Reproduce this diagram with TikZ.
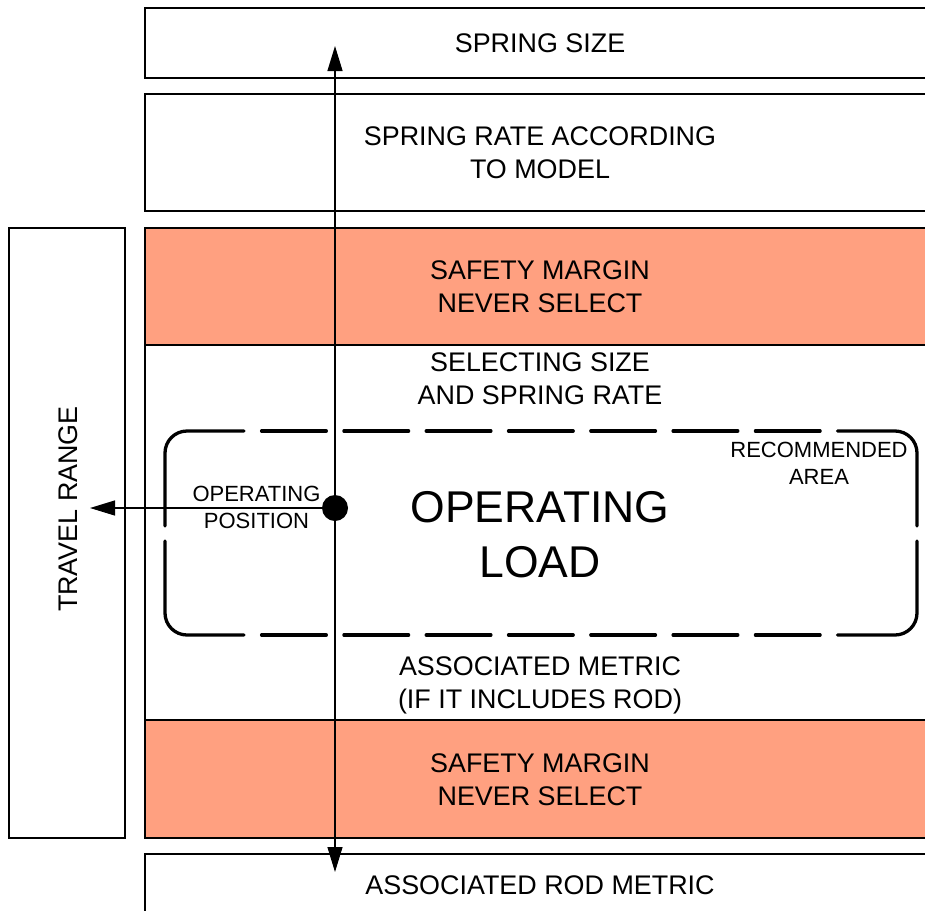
\documentclass[tikz,border=0pt]{standalone}
\usepackage{fontspec}
\setmainfont{Liberation Sans}
\usetikzlibrary{arrows.meta}
\definecolor{margin}{RGB}{255,160,128}

\begin{document}
\begin{tikzpicture}[x=1pt,y=-1pt,
  frame/.style={line width=2.5pt},
  lbl/.style={align=center, inner sep=0pt, font=\fontsize{26.9}{33}\selectfont},
  small/.style={align=center, inner sep=0pt, font=\fontsize{22}{27}\selectfont},
  big/.style={align=center, inner sep=0pt, font=\fontsize{44.5}{55}\selectfont},
  axis/.style={line width=1.3pt, -{Triangle[length=25pt,width=15pt]}},
  area/.style={line width=3.3pt, line cap=round},
  areadash/.style={area, dash pattern=on 64.7pt off 17.6pt},
]
\useasboundingbox (0,0) rectangle (925,910);

% safety margin bands
\fill[margin] (145,228) rectangle (925,345);
\fill[margin] (145,720) rectangle (925,838);

% stacked boxes (open to the right)
\draw[frame] (926,8) -- (145,8) -- (145,78) -- (926,78);
\draw[frame] (926,94) -- (145,94) -- (145,211) -- (926,211);
\draw[frame] (926,228) -- (145,228) -- (145,838) -- (926,838);
\draw[frame] (145,345) -- (926,345);
\draw[frame] (145,720) -- (926,720);
\draw[frame] (926,854) -- (145,854) -- (145,912);

% travel range box
\draw[frame] (9,228) rectangle (125,838);

% recommended area outline (dashed, rounded)
\draw[area, rounded corners=22pt] (165,526) -- (165,431) -- (244,431);
\draw[areadash] (261.6,431) -- (820.4,431);
\draw[area, rounded corners=22pt] (837.6,431) -- (917,431) -- (917,526);
\draw[area, rounded corners=22pt] (917,541) -- (917,635) -- (837.6,635);
\draw[areadash] (261.6,635) -- (820.4,635);
\draw[area, rounded corners=22pt] (244,635) -- (165,635) -- (165,541);

% operating point and axes
\node[circle, fill=black, inner sep=0pt, minimum size=26pt] (op) at (335,508) {};
\coordinate (up) at (335,46);
\coordinate (down) at (335,872);
\coordinate (left) at (90,508);
\draw[axis] (op) -- (up);
\draw[axis] (op) -- (down);
\draw[axis] (op) -- (left);

% labels
\node[lbl] (t1) at (540,43.5) {SPRING SIZE};
\node[lbl] (t2) at (540,153) {SPRING RATE ACCORDING\\TO MODEL};
\node[lbl] (t3) at (540,286.5) {SAFETY MARGIN\\NEVER SELECT};
\node[lbl] (t4) at (540,378.5) {SELECTING SIZE\\AND SPRING RATE};
\node[small] (t5) at (819,463.5) {RECOMMENDED\\AREA};
\node[small] (t6) at (256.5,507.5) {OPERATING\\POSITION};
\node[big] (t7) at (540,534.5) {OPERATING\\LOAD};
\node[lbl] (t8) at (540,685.5) {ASSOCIATED METRIC\\(IF IT INCLUDES ROD)};
\node[lbl] (t9) at (540,779.5) {SAFETY MARGIN\\NEVER SELECT};
\node[lbl] (t10) at (540,885) {ASSOCIATED ROD METRIC};
\node[lbl, rotate=90] (t11) at (68,509) {TRAVEL RANGE};
\end{tikzpicture}
\end{document}
